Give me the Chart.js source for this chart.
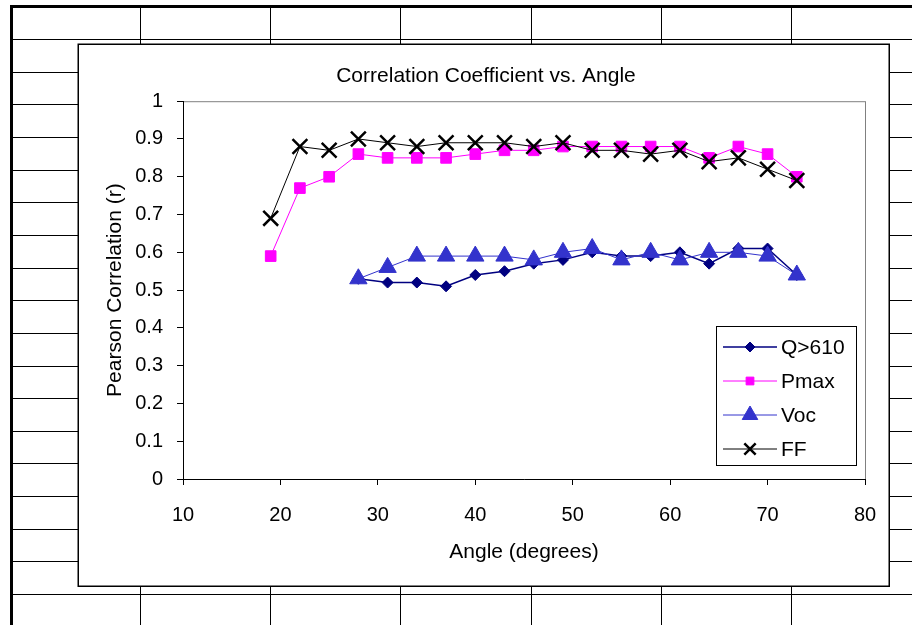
<!DOCTYPE html>
<html>
<head>
<meta charset="utf-8">
<title>Correlation Coefficient vs. Angle</title>
<script src="https://cdn.jsdelivr.net/npm/chart.js@4.4.0/dist/chart.umd.min.js"></script>
<style>
  html, body { margin: 0; padding: 0; background: #fff; }
  canvas { display: block; }
</style>
</head>
<body>
<canvas id="corrChart" width="912" height="625"></canvas>
<script>
// angle of incidence (degrees)
const angles = [19, 22, 25, 28, 31, 34, 37, 40, 43, 46, 49, 52, 55, 58, 61, 64, 67, 70, 73];

// Pearson r per angle; Q>610 and Voc were only measured from 28 degrees on
const q610 = [null, null, null, 0.53, 0.52, 0.52, 0.51, 0.54, 0.55, 0.57, 0.58, 0.60, 0.59, 0.59, 0.60, 0.57, 0.61, 0.61, 0.54];
const pmax = [0.59, 0.77, 0.80, 0.86, 0.85, 0.85, 0.85, 0.86, 0.87, 0.87, 0.88, 0.88, 0.88, 0.88, 0.88, 0.85, 0.88, 0.86, 0.80];
const voc = [null, null, null, 0.53, 0.56, 0.59, 0.59, 0.59, 0.59, 0.58, 0.60, 0.61, 0.58, 0.60, 0.58, 0.60, 0.60, 0.59, 0.54];
const ff = [0.69, 0.88, 0.87, 0.90, 0.89, 0.88, 0.89, 0.89, 0.89, 0.88, 0.89, 0.87, 0.87, 0.86, 0.87, 0.84, 0.85, 0.82, 0.79];

const seriesNames = ["Q>610", "Pmax", "Voc", "FF"];
const xTicks = [10, 20, 30, 40, 50, 60, 70, 80];
const yTicks = [0, 0.1, 0.2, 0.3, 0.4, 0.5, 0.6, 0.7, 0.8, 0.9, 1];

const FONT = "'Liberation Sans', Arial, Helvetica, sans-serif";

function toPoints(values) {
  return angles.map((a, i) => ({ x: a, y: values[i] }));
}

// worksheet cells behind the chart object
const sheetGrid = {
  id: "sheetGrid",
  beforeDraw(chart) {
    const ctx = chart.ctx;
    const W = chart.width, H = chart.height;
    ctx.save();
    ctx.fillStyle = "#fff";
    ctx.fillRect(0, 0, W, H);

    ctx.strokeStyle = "#000";
    ctx.lineWidth = 1;
    // columns
    [140, 270, 400, 531, 661, 791].forEach(x => {
      ctx.beginPath();
      ctx.moveTo(x + 0.5, 6);
      ctx.lineTo(x + 0.5, H);
      ctx.stroke();
    });
    // rows
    for (let k = 0; k <= 17; k++) {
      const y = Math.round(39 + k * 32.65) + 0.5;
      ctx.beginPath();
      ctx.moveTo(10, y);
      ctx.lineTo(W, y);
      ctx.stroke();
    }
    // heavy frame top and left
    ctx.lineWidth = 3;
    ctx.beginPath();
    ctx.moveTo(10, 6.5);
    ctx.lineTo(W, 6.5);
    ctx.moveTo(11.5, 5);
    ctx.lineTo(11.5, H);
    ctx.stroke();

    // chart object box
    ctx.fillStyle = "#fff";
    ctx.fillRect(78, 44, 811, 542);
    ctx.lineWidth = 1.5;
    ctx.strokeRect(78.25, 44.25, 811, 542);

    // plot area outline (left/bottom get overdrawn by the axes)
    const a = chart.chartArea;
    ctx.strokeStyle = "#808080";
    ctx.lineWidth = 1;
    ctx.strokeRect(a.left + 0.5, a.top + 0.5, a.right - a.left, a.bottom - a.top);
    ctx.restore();
  }
};

function drawMarker(ctx, ds, x, y, radius) {
  const opts = {
    pointStyle: ds.pointStyle,
    rotation: 0,
    radius: radius,
    borderWidth: ds.pointBorderWidth
  };
  ctx.fillStyle = ds.pointBackgroundColor;
  ctx.strokeStyle = ds.pointBorderColor;
  ctx.lineWidth = ds.pointBorderWidth;
  Chart.helpers.drawPoint(ctx, opts, x, y);
}

// boxed legend with a line sample and marker per series
const boxLegend = {
  id: "boxLegend",
  afterDraw(chart) {
    const ctx = chart.ctx;
    const bx = 716, by = 326, bw = 140, bh = 139;
    ctx.save();
    ctx.fillStyle = "#fff";
    ctx.fillRect(bx, by, bw, bh);
    ctx.strokeStyle = "#000";
    ctx.lineWidth = 1;
    ctx.strokeRect(bx + 0.5, by + 0.5, bw, bh);

    const legendRadius = [5, 5.5, 9, 8];
    chart.data.datasets.forEach((ds, i) => {
      const y = by + 21 + i * 34;
      ctx.strokeStyle = ds.borderColor;
      ctx.lineWidth = ds.borderWidth;
      ctx.beginPath();
      ctx.moveTo(bx + 7, y);
      ctx.lineTo(bx + 61, y);
      ctx.stroke();
      drawMarker(ctx, ds, bx + 34, y, legendRadius[i]);

      ctx.fillStyle = "#000";
      ctx.font = "21px " + FONT;
      ctx.textAlign = "left";
      ctx.textBaseline = "middle";
      ctx.fillText(ds.label, bx + 65, y + 1);
    });
    ctx.restore();
  }
};

const ctx = document.getElementById("corrChart").getContext("2d");

new Chart(ctx, {
  type: "line",
  data: {
    datasets: [
      {
        label: seriesNames[0],
        data: toPoints(q610),
        borderColor: "#000080",
        borderWidth: 1.5,
        pointStyle: "rectRot",
        pointRadius: 5.5,
        pointBackgroundColor: "#000080",
        pointBorderColor: "#000080",
        pointBorderWidth: 1,
        order: 4
      },
      {
        label: seriesNames[1],
        data: toPoints(pmax),
        borderColor: "#FF00FF",
        borderWidth: 1,
        pointStyle: "rect",
        pointRadius: 7.5,
        pointBackgroundColor: "#FF00FF",
        pointBorderColor: "#FF00FF",
        pointBorderWidth: 1,
        order: 3
      },
      {
        label: seriesNames[2],
        data: toPoints(voc),
        borderColor: "#3333CC",
        borderWidth: 1,
        pointStyle: "triangle",
        pointRadius: 10,
        pointBackgroundColor: "#3333CC",
        pointBorderColor: "#3333CC",
        pointBorderWidth: 1,
        order: 2
      },
      {
        label: seriesNames[3],
        data: toPoints(ff),
        borderColor: "#000000",
        borderWidth: 1,
        pointStyle: "crossRot",
        pointRadius: 10.5,
        pointBackgroundColor: "#000000",
        pointBorderColor: "#000000",
        pointBorderWidth: 2.5,
        order: 1
      }
    ]
  },
  options: {
    responsive: false,
    animation: false,
    events: [],
    layout: {
      // wide left padding keeps the title centred on the chart object
      padding: { left: 107, right: 47, top: 50, bottom: 52 }
    },
    elements: {
      line: { tension: 0, fill: false },
      point: { hoverRadius: 0 }
    },
    scales: {
      x: {
        type: "linear",
        min: xTicks[0],
        max: xTicks[xTicks.length - 1],
        afterBuildTicks: scale => { scale.ticks = xTicks.map(v => ({ value: v })); },
        afterFit: scale => { scale.height = 94; },
        grid: { display: true, drawOnChartArea: false, drawTicks: true, tickLength: 6, color: "#000" },
        border: { display: true, color: "#000", width: 1 },
        ticks: {
          color: "#000",
          padding: 18,
          font: { family: FONT, size: 20 },
          maxRotation: 0
        },
        title: {
          display: true,
          text: "Angle (degrees)",
          color: "#000",
          font: { family: FONT, size: 21 },
          padding: { top: 0, bottom: 8 }
        }
      },
      y: {
        type: "linear",
        min: yTicks[0],
        max: yTicks[yTicks.length - 1],
        afterBuildTicks: scale => { scale.ticks = yTicks.map(v => ({ value: v })); },
        afterFit: scale => { scale.width = 76; },
        grid: { display: true, drawOnChartArea: false, drawTicks: true, tickLength: 6, color: "#000" },
        border: { display: true, color: "#000", width: 1 },
        ticks: {
          color: "#000",
          padding: 14,
          font: { family: FONT, size: 20 },
          callback: v => String(+v.toFixed(1))
        },
        title: {
          display: true,
          text: "Pearson Correlation (r)",
          color: "#000",
          font: { family: FONT, size: 21 },
          padding: { top: -4, bottom: 0 }
        }
      }
    },
    plugins: {
      legend: { display: false },
      tooltip: { enabled: false },
      title: {
        display: true,
        text: "Correlation Coefficient vs. Angle",
        color: "#000",
        font: { family: FONT, size: 21, weight: "normal" },
        padding: { top: 14, bottom: 12 }
      }
    }
  },
  plugins: [sheetGrid, boxLegend]
});
</script>
</body>
</html>
